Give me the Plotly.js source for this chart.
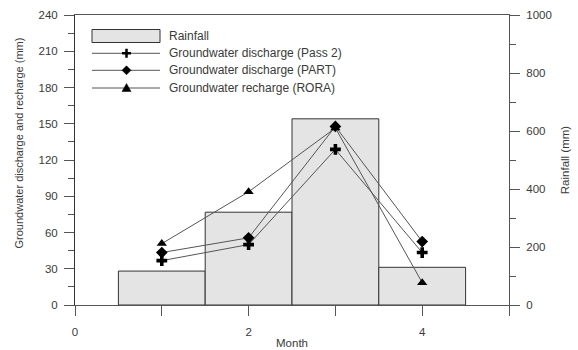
<!DOCTYPE html>
<html><head><meta charset="utf-8">
<script src="https://cdn.plot.ly/plotly-3.0.1.min.js"></script>
<style>html,body{margin:0;padding:0;background:#fff}#chart{width:578px;height:350px}</style>
</head><body><div id="chart"></div>
<script>
const months = [1, 2, 3, 4];
const rainfall = [117, 320, 642, 130];
const pass2 = [36.7, 50, 128.8, 43.4];
const part = [43.4, 55.6, 147.8, 52.5];
const rora = [50.8, 93.7, 146.5, 18.5];
const xTickVals = [0, 1, 2, 3, 4, 5];
const xTickText = ['0', '', '2', '', '4', ''];
const seriesNames = ['Rainfall', 'Groundwater discharge (Pass 2)', 'Groundwater discharge (PART)', 'Groundwater recharge (RORA)'];
const leftTitle = 'Groundwater discharge and recharge (mm)';

const FONT = 'Liberation Sans, Arial, sans-serif';
const TXT = '#3a3a3a';
const AX = '#555555';
const LINEC = '#555555';
const TICKF = {family:FONT, size:11.5, color:TXT};

const traces = [
  {type:'bar', x: months, y: rainfall, width: 1, yaxis:'y', name: seriesNames[0],
   marker:{color:'#e4e4e4', line:{color:'#333333', width:1}}, showlegend:false},
  {type:'scatter', mode:'lines+markers', x: months, y: pass2, yaxis:'y2', name: seriesNames[1],
   line:{color:LINEC, width:1}, marker:{symbol:'cross', size:9, color:'#000'}, showlegend:false},
  {type:'scatter', mode:'lines+markers', x: months, y: part, yaxis:'y2', name: seriesNames[2],
   line:{color:LINEC, width:1}, marker:{symbol:'diamond', size:9, color:'#000'}, showlegend:false},
  {type:'scatter', mode:'lines+markers', x: months, y: rora, yaxis:'y2', name: seriesNames[3],
   line:{color:LINEC, width:1}, marker:{symbol:'triangle-up', size:9, color:'#000'}, showlegend:false}
];

// legend geometry (paper coords)
const W = 434, H = 290, L = 75, B = 305;
const px = v => (v - L) / W;
const py = v => (B - v) / H;
const lx0 = px(92), lx1 = px(160), mx = px(126.5), tx = px(167);
const rowY = [36, 53.3, 70.3, 88];
const shapes = [
  {type:'rect', xref:'paper', yref:'paper', x0:lx0, x1:lx1, y0:py(42.5), y1:py(29.5),
   fillcolor:'#e4e4e4', line:{color:'#333333', width:1}}
];
const paths = [
  {p:'M-4.5,0H4.5M0,-4.5V4.5', fill:false},
  {p:'M0,-4.5L4.5,0L0,4.5L-4.5,0Z', fill:true},
  {p:'M-4.5,-3.5L4.5,-3.5L0,4.5Z', fill:true}
];
for (let i = 1; i < 4; i++) {
  shapes.push({type:'line', xref:'paper', yref:'paper', x0:lx0, x1:lx1, y0:py(rowY[i]), y1:py(rowY[i]),
    line:{color:LINEC, width:1}});
  const pp = paths[i-1];
  shapes.push({type:'path', xref:'paper', yref:'paper', xsizemode:'pixel', ysizemode:'pixel',
    xanchor:mx, yanchor:py(rowY[i]), path:pp.p,
    fillcolor: pp.fill ? '#000' : 'rgba(0,0,0,0)', line:{color:'#000', width: pp.fill ? 0.5 : 2.5}});
}
const annotations = seriesNames.map((n, i) => ({
  xref:'paper', yref:'paper', x:tx, y:py(rowY[i]), xanchor:'left', yanchor:'middle',
  text:n, showarrow:false, font:{family:FONT, size:12, color:TXT}
}));
annotations.push({xref:'paper', yref:'paper', x:px(18), y:py(143.5), xanchor:'center', yanchor:'middle',
  textangle:-90, text:leftTitle, showarrow:false, font:{family:FONT, size:11, color:TXT}});

const layout = {
  width:578, height:350,
  margin:{l:75, r:69, t:15, b:45},
  paper_bgcolor:'#fff', plot_bgcolor:'#fff',
  font:{family:FONT, size:11.5, color:TXT},
  showlegend:false,
  bargap:0,
  xaxis:{range:[0,5], tickvals:xTickVals, ticktext:xTickText, ticks:'outside', ticklen:10,
    tickcolor:AX, showline:true, linecolor:AX, linewidth:1, mirror:true, showgrid:false, zeroline:false,
    ticklabelstandoff:6, tickfont:TICKF,
    title:{text:'Month', font:{family:FONT, size:11.5, color:TXT}, standoff:2}},
  yaxis:{range:[0,1000], side:'right', tickvals:[0,200,400,600,800,1000], ticks:'outside', ticklen:10,
    tickcolor:AX, showline:true, linecolor:AX, linewidth:1, showgrid:false, zeroline:false,
    minor:{tickvals:[100,300,500,700,900], ticks:'outside', ticklen:6, tickcolor:AX},
    ticklabelstandoff:4, tickfont:TICKF,
    title:{text:'Rainfall (mm)', font:{family:FONT, size:11.5, color:TXT}, standoff:10}},
  yaxis2:{range:[0,240], side:'left', overlaying:'y', tickvals:[0,30,60,90,120,150,180,210,240],
    ticks:'outside', ticklen:10, tickcolor:AX, showline:true, linecolor:'#333', linewidth:1,
    showgrid:false, zeroline:false,
    minor:{tickvals:[15,45,75,105,135,165,195,225], ticks:'outside', ticklen:6, tickcolor:AX},
    ticklabelstandoff:4, tickfont:TICKF},
  shapes:shapes,
  annotations:annotations
};
Plotly.newPlot('chart', traces, layout, {staticPlot:true, displayModeBar:false});
</script></body></html>
